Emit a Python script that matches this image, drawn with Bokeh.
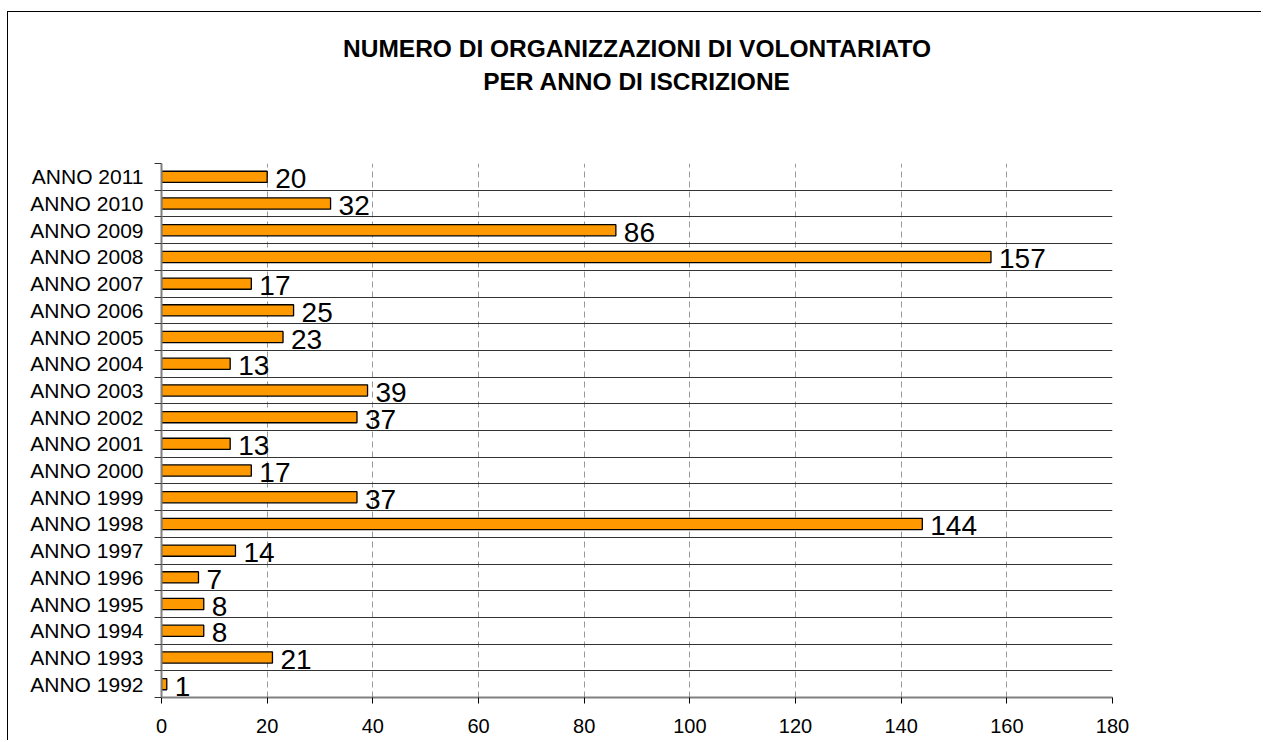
from bokeh.plotting import figure
from bokeh.models import FixedTicker, Title, ColumnDataSource, Range1d
from bokeh.core.properties import value
from bokeh.embed import file_html
from bokeh.resources import INLINE

years = ["ANNO 1992", "ANNO 1993", "ANNO 1994", "ANNO 1995", "ANNO 1996", "ANNO 1997",
         "ANNO 1998", "ANNO 1999", "ANNO 2000", "ANNO 2001", "ANNO 2002", "ANNO 2003",
         "ANNO 2004", "ANNO 2005", "ANNO 2006", "ANNO 2007", "ANNO 2008", "ANNO 2009",
         "ANNO 2010", "ANNO 2011"]
counts = [1, 21, 8, 8, 7, 14, 144, 37, 17, 13, 37, 39, 13, 23, 25, 17, 157, 86, 32, 20]
x_ticks = [0, 20, 40, 60, 80, 100, 120, 140, 160, 180]
title_lines = ["NUMERO DI ORGANIZZAZIONI DI VOLONTARIATO", "PER ANNO DI ISCRIZIONE"]

FONT = "Liberation Sans"
n = len(years)
centers = [i + 0.5 for i in range(n)]
bounds = list(range(n + 1))

src = ColumnDataSource(dict(y=centers, v=counts, lbl=[str(c) for c in counts]))

# figure content starts at (8, 12) because of the margin + border below
p = figure(width=1254, height=729, output_backend="svg", toolbar_location=None,
           x_range=Range1d(0, 180), y_range=Range1d(0, n),
           min_border_left=153, min_border_right=1254 - 153 - 951, min_border_top=151,
           min_border_bottom=729 - 151 - 534)
p.styles = {"margin-left": "7px", "margin-top": "11px",
            "border-left": "1px solid black", "border-top": "1px solid black"}
p.outline_line_color = None
p.background_fill_color = "white"
p.border_fill_color = "white"

# titles (added nearest-first): spacer, line 2, line 1
spacer = Title(text=" ", text_font=FONT, text_font_size="10px", standoff=56)
t2 = Title(text=title_lines[1], align="center", text_font=FONT, text_font_size="24.5px",
           text_font_style="bold", text_color="black", standoff=0, offset=4)
t1 = Title(text=title_lines[0], align="center", text_font=FONT, text_font_size="24.5px",
           text_font_style="bold", text_color="black", standoff=8, offset=4)
p.add_layout(spacer, "above")
p.add_layout(t2, "above")
p.add_layout(t1, "above")

# bars
p.hbar(y="y", right="v", left=0, height=0.42, source=src,
       fill_color="#FF9900", line_color="black", line_width=1.3)
p.text(x="v", y="y", text="lbl", source=src, x_offset=8, y_offset=2,
       text_baseline="middle", text_align="left",
       text_font=value(FONT), text_font_size="28px", text_color="black")

# x axis
p.xaxis.ticker = FixedTicker(ticks=x_ticks)
p.xaxis.axis_line_color = "#808080"
p.xaxis.axis_line_width = 2
p.xaxis.major_tick_line_color = "black"
p.xaxis.major_tick_out = 6
p.xaxis.major_tick_in = 0
p.xaxis.minor_tick_line_color = None
p.xaxis.major_label_text_font = FONT
p.xaxis.major_label_text_font_size = "20px"
p.xaxis.major_label_text_color = "black"
p.xaxis.major_label_standoff = 15

# y axis
p.yaxis.ticker = FixedTicker(ticks=centers, minor_ticks=bounds)
p.yaxis.major_label_overrides = {c: y for c, y in zip(centers, years)}
p.yaxis.axis_line_color = "#808080"
p.yaxis.axis_line_width = 2
p.yaxis.major_tick_line_color = None
p.yaxis.major_tick_out = 0
p.yaxis.major_tick_in = 0
p.yaxis.minor_tick_line_color = "#333333"
p.yaxis.minor_tick_out = 7
p.yaxis.minor_tick_in = 0
p.yaxis.major_label_text_font = FONT
p.yaxis.major_label_text_font_size = "21px"
p.yaxis.major_label_text_color = "black"
p.yaxis.major_label_standoff = 11

# grids
p.xgrid.ticker = FixedTicker(ticks=x_ticks)
p.xgrid.grid_line_color = "#999999"
p.xgrid.grid_line_dash = "6 4"
p.xgrid.grid_line_width = 1
p.ygrid.ticker = FixedTicker(ticks=bounds)
p.ygrid.grid_line_color = "#333333"
p.ygrid.grid_line_width = 1

open("out.html", "w").write(file_html(p, INLINE))
